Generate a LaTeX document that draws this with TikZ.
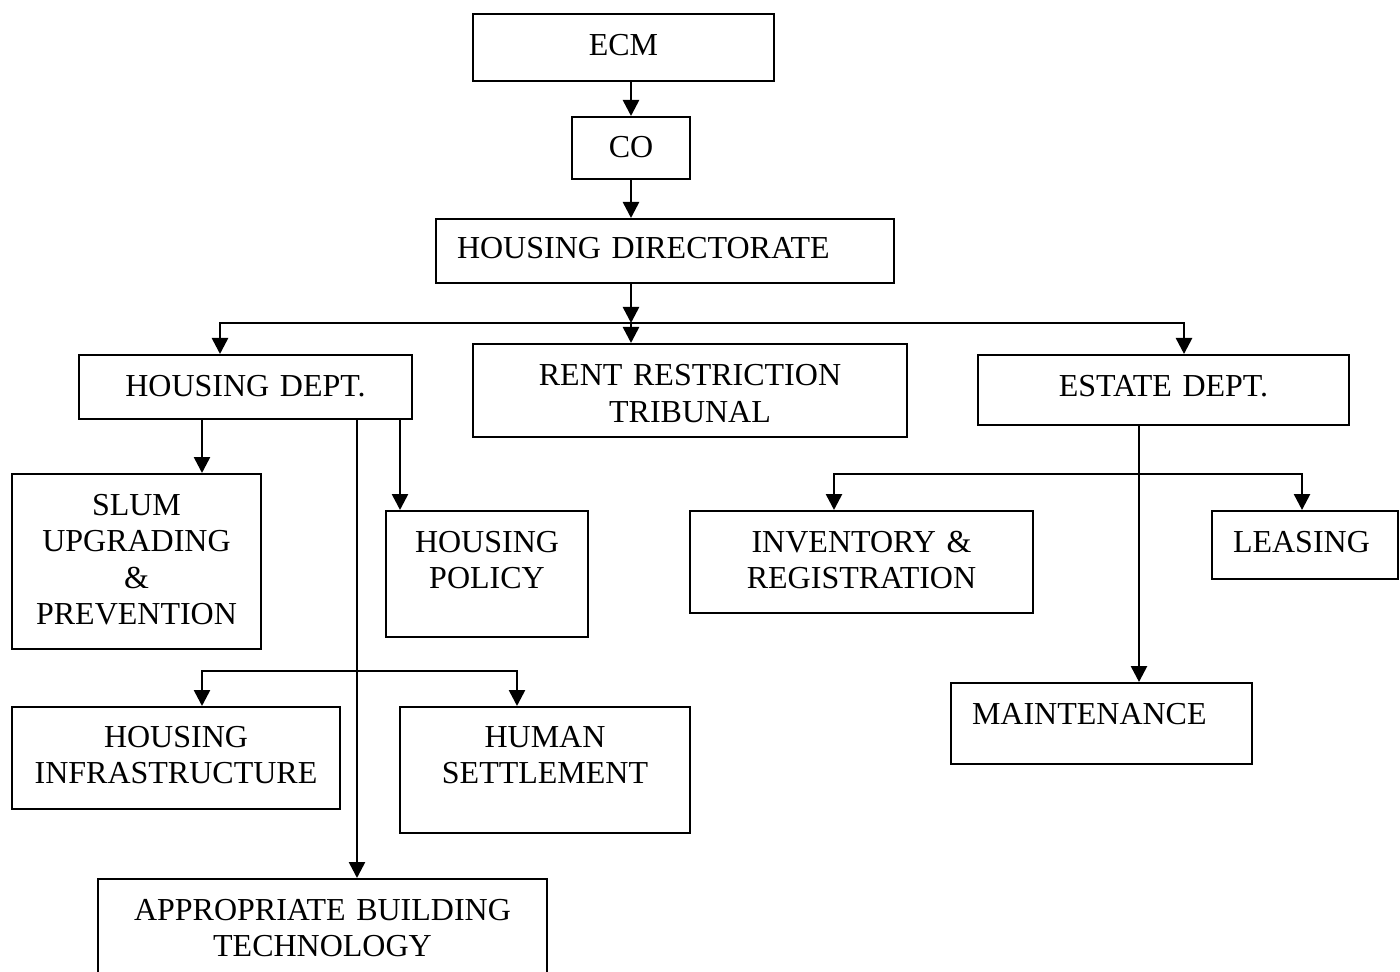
\documentclass[tikz,border=0pt]{standalone}
\usepackage{fontspec}
\setmainfont{Liberation Serif}
\usetikzlibrary{arrows.meta}

\begin{document}
\begin{tikzpicture}[x=0.5pt,y=-0.5pt,line width=1.3pt,
  box/.style={draw,line width=1pt,inner sep=0pt,align=center,
    font=\fontsize{16}{18.3}\selectfont},
  lbox/.style={box,align=left,inner xsep=10.5pt},
  arr/.style={-{Triangle[length=8pt,width=8pt]}}]
\useasboundingbox (0,0) rectangle (1400,972);
\clip (0,0) rectangle (1400,972);

\node [box,text width=150.5pt,text height=21pt,text depth=12.5pt] (ecm) at (623.5,47.5) {ECM};
\node [box,text width=59pt,text height=20.5pt,text depth=10.5pt] (co) at (631,148) {CO};
\node [lbox,text width=208pt,text height=20pt,text depth=12pt] (dir) at (665,251) {HOUSING DIRECTORATE};

\node [box,text width=166.5pt,text height=21pt,text depth=11pt] (hdept) at (245.5,387) {HOUSING DEPT.};
\node [box,text width=217pt,text height=21pt,text depth=25.5pt] (rrt) at (690,390.5) {RENT RESTRICTION\\TRIBUNAL};
\node [box,text width=185.5pt,text height=21pt,text depth=14pt] (estate) at (1163.5,390) {ESTATE DEPT.};

\node [box,text width=124.5pt,text height=20.5pt,text depth=67pt] (slum) at (136.5,561.5) {SLUM\\UPGRADING\\\&\\PREVENTION};
\node [box,text width=101pt,text height=20.5pt,text depth=42.5pt] (policy) at (487,574) {HOUSING\\POLICY};
\node [box,text width=164pt,text height=20pt,text depth=31pt] (infra) at (176,758) {HOUSING\\INFRASTRUCTURE};
\node [box,text width=145pt,text height=20pt,text depth=43pt] (human) at (545,770) {HUMAN\\SETTLEMENT};
\node [box,text width=224.5pt,text height=20.5pt,text depth=40pt] (approp) at (322.5,939.5) {APPROPRIATE BUILDING\\TECHNOLOGY};

\node [box,text width=171.5pt,text height=20.5pt,text depth=30.5pt] (inventory) at (861.5,562) {INVENTORY \&\\REGISTRATION};
\node [lbox,text width=72pt,text height=20.5pt,text depth=13.5pt] (leasing) at (1305,545) {LEASING};
\node [lbox,text width=129.5pt,text height=20.5pt,text depth=20pt] (maint) at (1101.5,723.5) {MAINTENANCE};

\coordinate (split) at (631,323);
\coordinate (hdtap) at (220,0);
\coordinate (estap) at (1184,0);
\coordinate (slumtap) at (202,0);
\coordinate (abtap) at (357,0);
\coordinate (poltap) at (400,0);
\coordinate (humtap) at (517,0);
\coordinate (hsplit) at (357,671);
\coordinate (mttap) at (1139,0);
\coordinate (esplit) at (1139,474);
\coordinate (invtap) at (834,0);
\coordinate (leatap) at (1302,0);

\draw [arr] (co.north |- ecm.south) -- (co.north);
\draw [arr] (co.south) -- (co.south |- dir.north);
\draw [arr] (co.south |- dir.south) -- (split);
\draw [arr] (split) -- (split |- rrt.north);
\draw [arr] (split) -| (hdtap |- hdept.north);
\draw [arr] (split) -| (estap |- estate.north);

\draw [arr] (slumtap |- hdept.south) -- (slumtap |- slum.north);
\draw [arr] (poltap |- hdept.south) -- (poltap |- policy.north);
\draw [arr] (abtap |- hdept.south) -- (abtap |- approp.north);
\draw [arr] (hsplit) -| (slumtap |- infra.north);
\draw [arr] (hsplit) -| (humtap |- human.north);

\draw [arr] (mttap |- estate.south) -- (mttap |- maint.north);
\draw [arr] (esplit) -| (invtap |- inventory.north);
\draw [arr] (esplit) -| (leatap |- leasing.north);
\end{tikzpicture}
\end{document}
